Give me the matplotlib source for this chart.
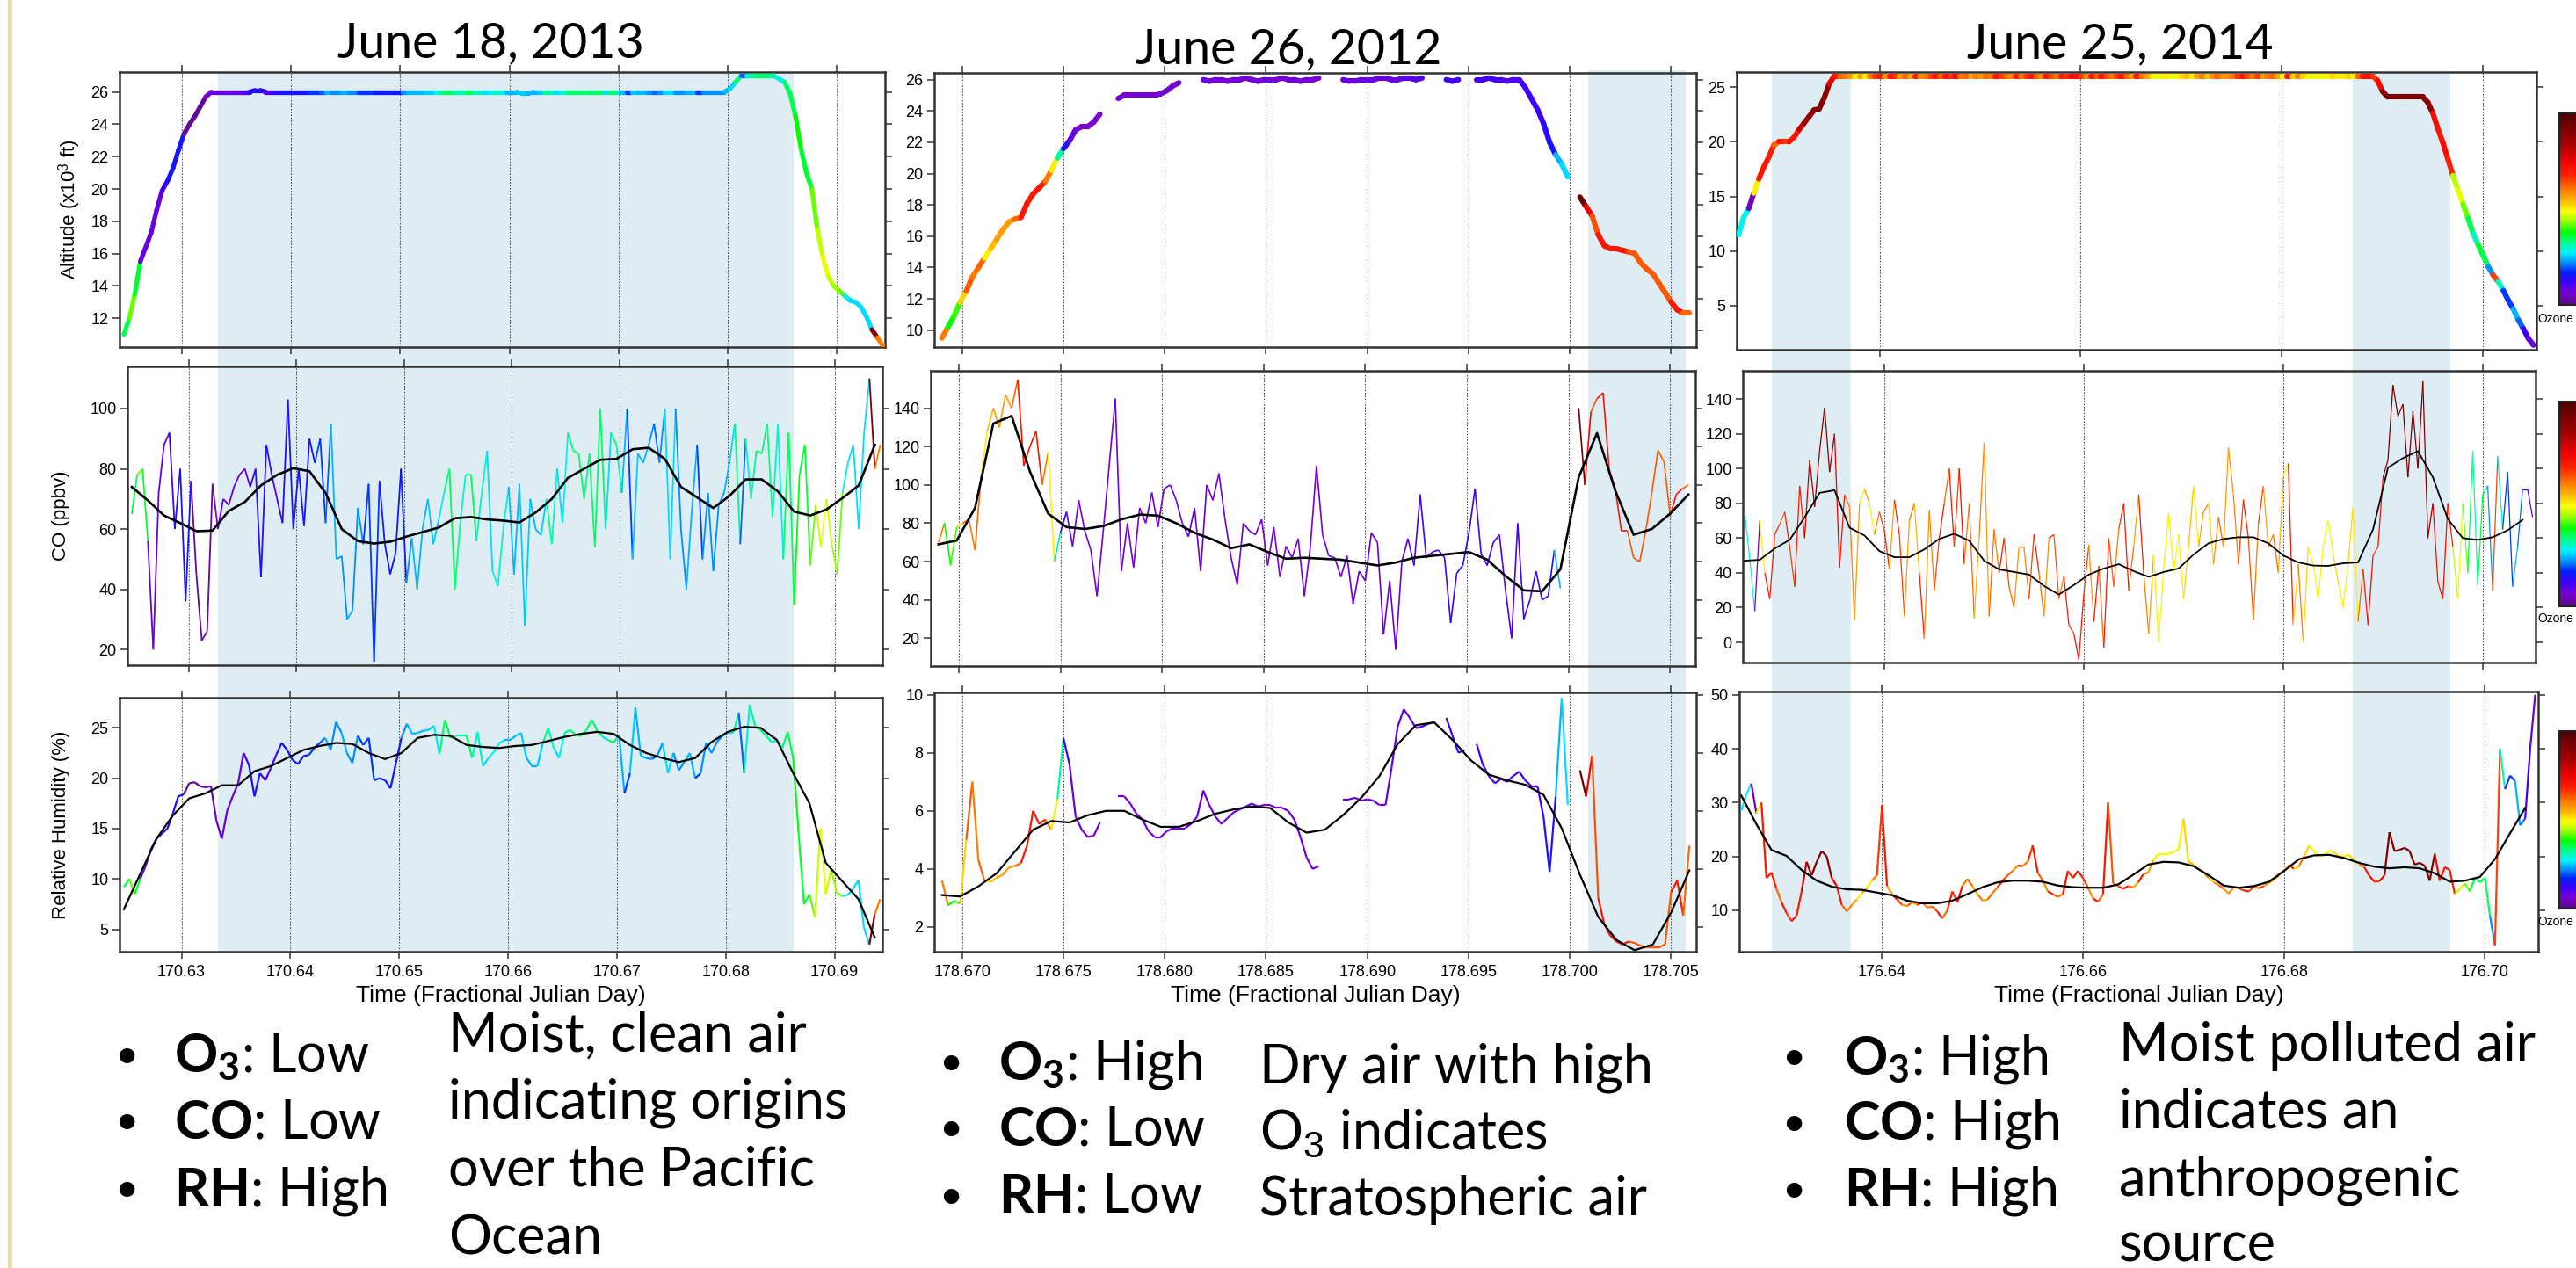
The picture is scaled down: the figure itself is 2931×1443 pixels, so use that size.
import numpy as np
import matplotlib
matplotlib.use("Agg")
import matplotlib.pyplot as plt
from matplotlib.collections import LineCollection
from matplotlib.colors import LinearSegmentedColormap, Normalize
from matplotlib.patches import Rectangle
from matplotlib.lines import Line2D
from matplotlib.cm import ScalarMappable

plt.rcParams['font.family'] = ['Liberation Sans', 'DejaVu Sans']
plt.rcParams['mathtext.fontset'] = 'custom'
plt.rcParams['mathtext.rm'] = 'Liberation Sans'
plt.rcParams['mathtext.bf'] = 'Lato:bold'
plt.rcParams['mathtext.it'] = 'Lato'

W, H, DPI = 2931, 1443, 100
nan = np.nan

# ============================ DATA ============================
TITLES = ["June 18, 2013", "June 26, 2012", "June 25, 2014"]
XLABEL = "Time (Fractional Julian Day)"
YLABELS = ["Altitude (x10$^3$ ft)", "CO (ppbv)", "Relative Humidity (%)"]

# ---- Column 1: June 18, 2013 (samples every 0.0005 day) ----
T1_START, T1_STEP = 170.6247, 0.0005
alt1 = [
 11.0, 12.0, 13.5, 15.5, 16.4, 17.3, 18.7, 19.9, 20.5, 21.3,
 22.4, 23.4, 24.0, 24.5, 25.1, 25.7, 26.0, 26.0, 26.0, 26.0,
 26.0, 26.0, 26.0, 26.0, 26.1, 26.1, 26.0, 26.0, 26.0, 26.0,
 26.0, 26.0, 26.0, 26.0, 26.0, 26.0, 26.0, 26.0, 26.0, 26.0,
 26.0, 26.0, 26.0, 26.0, 26.0, 26.0, 26.0, 26.0, 26.0, 26.0,
 26.0, 26.0, 26.0, 26.0, 26.0, 26.0, 26.0, 26.0, 26.0, 26.0,
 26.0, 26.0, 26.0, 26.0, 26.0, 26.0, 26.0, 26.0, 26.0, 26.0,
 26.0, 26.0, 26.0, 25.9, 25.9, 26.0, 26.0, 26.0, 26.0, 26.0,
 26.0, 26.0, 26.0, 26.0, 26.0, 26.0, 26.0, 26.0, 26.0, 26.0,
 26.0, 26.0, 26.0, 26.0, 26.0, 26.0, 26.0, 26.0, 26.0, 26.0,
 26.0, 26.0, 26.0, 26.0, 26.0, 26.0, 26.0, 26.0, 26.0, 26.0,
 26.0, 26.2, 26.6, 27.0, 27.0, 27.0, 27.0, 27.0, 27.0, 27.0,
 26.8, 26.6, 25.9, 24.5, 22.5, 21.0, 20.0, 17.5, 15.8, 14.6,
 14.0, 13.7, 13.4, 13.1, 13.0, 12.7, 12.1, 11.3, 10.8, 10.3]
co1 = [
 65, 78, 80, 56, 20, 72, 88, 92, 60, 80,
 36, 76, 45, 23, 26, 75, 60, 70, 68, 74,
 78, 80, 74, 80, 44, 88, 78, 70, 62, 103,
 60, 80, 61, 90, 82, 90, 62, 95, 50, 51,
 30, 33, 67, 55, 75, 16, 76, 55, 45, 52,
 80, 42, 57, 40, 60, 70, 55, 63, 72, 80,
 40, 62, 78, 78, 56, 72, 86, 46, 41, 60,
 74, 45, 75, 28, 70, 60, 58, 70, 55, 80,
 62, 92, 86, 85, 70, 85, 54, 100, 60, 92,
 88, 72, 100, 50, 85, 82, 88, 95, 82, 100,
 50, 100, 60, 40, 66, 88, 50, 72, 46, 68,
 72, 82, 95, 55, 90, 70, 86, 85, 95, 64,
 95, 50, 92, 35, 78, 88, 48, 68, 54, 70,
 55, 45, 72, 82, 88, 60, 92, 110, 80, 88]
rh1 = [
 9.2, 10.0, 8.5, 10.0, 11.3, 13.0, 14.0, 14.5, 15.0, 16.5,
 18.2, 18.4, 19.5, 19.6, 19.2, 19.1, 19.2, 15.8, 14.0, 16.8,
 18.2, 19.5, 22.5, 21.3, 18.2, 20.5, 19.8, 21.0, 22.3, 23.5,
 22.8, 21.8, 21.4, 22.2, 22.3, 23.0, 23.5, 24.0, 22.8, 25.6,
 24.5, 22.5, 21.5, 24.2, 23.3, 24.0, 19.8, 20.0, 19.8, 19.0,
 21.5, 24.0, 25.4, 24.4, 24.5, 24.7, 24.8, 25.2, 22.4, 25.8,
 24.0, 24.2, 24.2, 24.2, 22.0, 24.6, 21.2, 22.0, 22.6, 23.5,
 23.8, 23.8, 24.2, 24.5, 22.0, 21.2, 21.2, 23.5, 25.0, 23.0,
 22.0, 24.5, 24.8, 24.3, 24.2, 24.8, 25.8, 24.7, 24.1, 23.8,
 23.5, 24.3, 18.5, 20.5, 27.0, 22.2, 22.0, 21.9, 22.2, 23.5,
 20.5, 22.5, 20.8, 21.6, 22.5, 20.0, 20.5, 23.5, 22.5, 23.6,
 24.2, 24.5, 24.5, 26.5, 20.5, 27.3, 25.2, 24.8, 24.2, 23.6,
 23.7, 23.0, 24.6, 22.0, 14.5, 7.5, 8.5, 6.2, 15.0, 8.5,
 11.0, 8.6, 8.3, 8.4, 9.0, 9.9, 5.2, 3.5, 6.5, 8.0]
o3_1 = [
 35, 42, 36, 8, 8, 8, 8, 12, 15, 15,
 15, 2, 2, 2, 2, 6, 8, 8, 8, 8,
 8, 8, 12, 14, 14, 14, 10, 12, 14, 15,
 15, 15, 15, 15, 18, 18, 20, 24, 22, 22,
 24, 22, 22, 18, 18, 18, 16, 16, 16, 16,
 16, 22, 24, 24, 24, 25, 25, 28, 33, 35,
 33, 30, 32, 35, 30, 30, 26, 28, 30, 28,
 24, 24, 25, 25, 24, 24, 25, 33, 30, 26,
 28, 33, 34, 34, 33, 34, 34, 34, 26, 34,
 32, 24, 18, 25, 24, 24, 22, 20, 22, 26,
 26, 22, 22, 24, 24, 18, 22, 22, 22, 22,
 24, 26, 33, 20, 30, 32, 34, 33, 33, 30,
 28, 34, 35, 38, 36, 36, 42, 46, 48, 46,
 44, 42, 28, 26, 26, 26, 26, 90, 60, 55]
co1_smooth = [   # every 3rd sample
 74, 69.5, 64.5, 62, 59.3, 59.5, 66, 69, 74.5, 78,
 80.2, 79.2, 72, 60, 56, 55.2, 55.8, 57.5, 59, 60.5,
 63.6, 64, 63.2, 62.8, 62.2, 65.5, 70, 77, 80, 83,
 83.3, 86.5, 87, 83.3, 74, 70.5, 67, 71, 76.5, 76.5,
 72.5, 65.8, 64.5, 66.5, 70.3, 74.5, 88]
rh1_smooth = [
 7.0, 10.5, 14.0, 16.3, 18.0, 18.5, 19.3, 19.3, 20.7, 21.2,
 22.0, 22.8, 23.2, 23.5, 23.4, 22.5, 21.9, 22.5, 24.0, 24.3,
 24.2, 23.3, 23.1, 23.0, 23.2, 23.3, 23.7, 24.1, 24.4, 24.6,
 24.4, 23.3, 22.5, 22.0, 21.6, 22.0, 23.6, 24.6, 25.1, 25.0,
 23.8, 20.5, 17.5, 11.6, 9.8, 8.0, 4.2]
shade1 = [(170.6333, 170.6860)]
xticks1 = [170.63, 170.64, 170.65, 170.66, 170.67, 170.68, 170.69]

# ---- Column 2: June 26, 2012 (samples every 0.0003 day) ----
T2_START, T2_STEP = 178.6690, 0.0003
alt2 = [
 9.5, 10.2, 10.9, 11.8, 12.5, 13.4, 14.0, 14.6, 15.2, 15.8,
 16.4, 16.9, 17.1, 17.2, 18.1, 18.7, 19.1, 19.5, 20.2, 21.0,
 21.6, 22.1, 22.8, 23.0, 23.0, 23.3, 23.8, nan, nan, 24.8,
 25.0, 25.0, 25.0, 25.0, 25.0, 25.0, 25.1, 25.3, 25.6, 25.8,
 nan, nan, nan, 26.0, 25.9, 26.0, 26.0, 25.9, 26.0, 26.0,
 26.1, 26.0, 25.9, 26.0, 26.0, 26.0, 26.1, 26.0, 26.0, 25.9,
 26.0, 26.0, 26.1, nan, nan, nan, 26.0, 25.9, 25.9, 26.0,
 26.0, 26.0, 26.1, 26.1, 26.0, 26.0, 26.1, 26.1, 26.0, 26.1,
 nan, nan, nan, 26.0, 25.9, 26.0, nan, nan, 26.0, 26.0,
 26.1, 26.0, 26.0, 25.9, 26.0, 26.0, 25.5, 24.8, 24.1, 23.2,
 22.0, 21.2, 20.6, 19.8, nan, 18.5, 17.9, 17.3, 16.1, 15.4,
 15.2, 15.2, 15.1, 15.0, 14.9, 14.3, 13.9, 13.6, 13.0, 12.4,
 11.8, 11.3, 11.1, 11.1]
co2 = [
 70, 80, 58, 78, 80, 82, 66, 105, 128, 140,
 130, 147, 140, 155, 110, 120, 128, 100, 117, 60,
 75, 86, 68, 92, 76, 66, 42, 75, 110, 145,
 55, 80, 57, 88, 80, 96, 78, 98, 100, 92,
 80, 73, 88, 55, 100, 92, 106, 82, 62, 48,
 80, 76, 74, 82, 58, 78, 52, 68, 62, 72,
 42, 68, 110, 74, 63, 62, 52, 63, 38, 55,
 50, 75, 70, 22, 50, 14, 60, 72, 58, 95,
 62, 65, 66, 62, 28, 54, 58, 75, 98, 64,
 58, 70, 74, 45, 20, 80, 30, 40, 55, 40,
 42, 66, 46, nan, nan, 140, 100, 138, 145, 148,
 108, 98, 76, 76, 62, 60, 76, 96, 118, 112,
 84, 95, 98, 100]
rh2 = [
 3.6, 2.75, 2.9, 2.8, 5.0, 7.0, 4.3, 3.6, 3.55, 3.7,
 3.8, 4.05, 4.1, 4.2, 4.8, 6.0, 5.55, 5.7, 5.35, 6.4,
 8.5, 7.6, 5.8, 5.35, 5.1, 5.15, 5.6, nan, nan, 6.5,
 6.5, 6.25, 5.9, 5.7, 5.3, 5.1, 5.1, 5.3, 5.4, 5.4,
 5.4, 5.55, 5.8, 6.7, 6.2, 5.8, 5.55, 5.75, 5.95, 6.05,
 6.15, 6.25, 6.15, 6.2, 6.2, 6.1, 6.1, 6.0, 5.7, 5.1,
 4.4, 4.0, 4.1, nan, nan, nan, 6.4, 6.4, 6.45, 6.35,
 6.4, 6.35, 6.2, 6.2, 7.5, 8.9, 9.5, 9.2, 8.85, 8.9,
 9.0, 9.05, nan, 9.2, 8.6, 8.0, 8.1, nan, 8.3, 7.6,
 7.2, 6.95, 7.1, 7.0, 7.2, 7.35, 7.05, 6.85, 6.85, 5.8,
 3.9, 6.5, 9.9, 6.2, nan, 7.4, 6.5, 7.9, 3.0, 2.1,
 1.7, 1.5, 1.4, 1.5, 1.45, 1.35, 1.3, 1.3, 1.3, 1.4,
 3.2, 3.6, 2.4, 4.8]
o3_2 = [
 60, 38, 40, 52, 63, 60, 62, 50, 54, 57,
 57, 57, 62, 70, 70, 70, 70, 60, 50, 32,
 14, 8, 7, 6, 6, 6, 7, 7, 7, 7,
 7, 7, 7, 7, 7, 7, 7, 7, 7, 7,
 8, 8, 8, 8, 7, 7, 7, 7, 7, 7,
 7, 7, 7, 7, 7, 7, 7, 7, 7, 7,
 7, 7, 7, 7, 7, 7, 8, 8, 8, 8,
 8, 8, 8, 8, 8, 8, 9, 9, 10, 11,
 11, 11, 11, 12, 12, 13, 13, 12, 11, 11,
 11, 11, 10, 10, 10, 11, 12, 12, 12, 14,
 15, 24, 26, 38, 38, 95, 74, 64, 70, 70,
 70, 70, 70, 63, 63, 63, 63, 63, 63, 63,
 70, 70, 62, 68]
co2_smooth = [
 69, 71, 88, 132, 136, 107, 85, 78, 77, 78.5,
 82, 84.5, 84, 80, 75, 71.5, 67, 69, 65, 61.5,
 62, 61.5, 61, 59.5, 58, 59.5, 62, 63, 64, 65,
 61, 52.5, 45, 44.5, 56, 104, 127, 97, 74, 77,
 85, 95]
rh2_smooth = [
 3.1, 3.05, 3.4, 3.85, 4.6, 5.35, 5.65, 5.6, 5.85, 6.0,
 6.0, 5.7, 5.45, 5.45, 5.65, 5.9, 6.05, 6.15, 6.1, 5.6,
 5.25, 5.35, 5.85, 6.45, 7.2, 8.3, 8.95, 9.05, 8.45, 7.75,
 7.25, 7.05, 6.9, 6.55, 5.4, 3.8, 2.35, 1.55, 1.2, 1.4,
 2.5, 3.95]
shade2 = [(178.7009, 178.7057)]
xticks2 = [178.670, 178.675, 178.680, 178.685, 178.690, 178.695, 178.700, 178.705]

# ---- Column 3: June 25, 2014 (samples every 0.0005 day) ----
T3_START, T3_STEP = 176.6260, 0.0005
alt3 = [
 11.5, 13.1, 13.9, 15.3, 16.6, 17.7, 18.6, 19.7, 20.0, 20.0,
 20.0, 20.4, 21.1, 21.7, 22.3, 22.9, 23.0, 24.0, 25.3, 26.0,
 26.0, 26.0, 26.0, 26.0, 26.0, 26.0, 26.0, 26.0, 26.0, 26.0,
 26.0, 26.0, 26.0, 26.0, 26.0, 26.0, 26.0, 26.0, 26.0, 26.0,
 26.0, 26.0, 26.0, 26.0, 26.0, 26.0, 26.0, 26.0, 26.0, 26.0,
 26.0, 26.0, 26.0, 26.0, 26.0, 26.0, 26.0, 26.0, 26.0, 26.0,
 26.0, 26.0, 26.0, 26.0, 26.0, 26.0, 26.0, 26.0, 26.0, 26.0,
 26.0, 26.0, 26.0, 26.0, 26.0, 26.0, 26.0, 26.0, 26.0, 26.0,
 26.0, 26.0, 26.0, 26.0, 26.0, 26.0, 26.0, 26.0, 26.0, 26.0,
 26.0, 26.0, 26.0, 26.0, 26.0, 26.0, 26.0, 26.0, 26.0, 26.0,
 26.0, 26.0, 26.0, 26.0, 26.0, 26.0, 26.0, 26.0, 26.0, 26.0,
 26.0, 26.0, 26.0, 26.0, 26.0, 26.0, 26.0, 26.0, 26.0, 26.0,
 26.0, 26.0, 26.0, 26.0, 26.0, 26.0, 26.0, 25.6, 24.6, 24.1,
 24.1, 24.1, 24.1, 24.1, 24.1, 24.1, 24.1, 23.6, 22.6, 21.2,
 19.9, 18.4, 16.9, 15.6, 14.3, 13.0, 11.6, 10.6, 9.6, 8.6,
 7.8, 7.2, 6.4, 5.5, 4.7, 3.7, 2.9, 2.0, 1.4]
co3 = [
 74, 48, 18, 70, 40, 25, 62, 68, 75, 55,
 32, 90, 60, 105, 78, 110, 135, 98, 120, 43,
 85, 78, 13, 80, 88, 80, 62, 75, 64, 42,
 82, 62, 15, 70, 80, 40, 2, 76, 30, 60,
 80, 100, 55, 100, 45, 80, 14, 60, 115, 15,
 65, 40, 60, 32, 20, 55, 55, 25, 62, 40,
 15, 60, 62, 25, 38, 10, 5, -10, 28, 56,
 12, 44, -3, 60, 32, 65, 80, 30, 55, 85,
 40, 5, 50, 0, 42, 75, 40, 62, 25, 55,
 90, 55, 75, 80, 45, 72, 55, 112, 85, 45,
 82, 60, 13, 68, 90, 55, 62, 40, 95, 103,
 10, 45, 0, 55, 45, 25, 55, 70, 50, 35,
 20, 45, 78, 12, 42, 10, 50, 55, 95, 105,
 148, 130, 137, 95, 133, 100, 150, 60, 80, 35,
 25, 80, 55, 25, 80, 40, 110, 33, 85, 90,
 30, 107, 65, 98, 32, 55, 88, 88, 72]
rh3 = [
 28.5, 31.5, 33.5, 28, 30, 16, 17, 14, 11.5, 9.5,
 8.0, 9.0, 13.5, 19, 16.5, 19, 21, 20, 16, 14.5,
 11, 9.8, 11, 12, 13.2, 14.2, 15.5, 16.5, 29.5, 14.5,
 13, 12, 11, 10.8, 11.5, 11, 11.5, 10.5, 10.7, 9.8,
 8.5, 10, 13.5, 11.5, 14.5, 15.8, 14.5, 13, 11.8, 12,
 13.2, 14.3, 15.5, 16.5, 17.3, 18.3, 18.2, 19, 22, 17,
 15.5, 13.5, 13, 12.5, 13, 17.3, 16, 17.3, 16, 14.2,
 12.2, 11.6, 13, 30, 15, 14.5, 14, 14.5, 14.2, 15.2,
 16.7, 17, 19.3, 20.5, 20.5, 20.5, 20.8, 21.3, 27, 19,
 18.5, 17.6, 17.1, 16, 15.2, 14.7, 14, 13.1, 14.3, 14.1,
 13.7, 13.5, 14.4, 14.1, 14.5, 15.1, 15.7, 16.5, 17.4, 18.4,
 17.7, 18.2, 20, 22, 21, 20.1, 20.3, 21.1, 20.7, 20,
 20.1, 20.3, 19, 18.5, 18, 16.4, 15.3, 15.4, 16.5, 24.5,
 21, 21.2, 21.6, 21, 18.5, 18.8, 18.3, 15.5, 20.5, 15.5,
 18, 17.5, 13, 14, 15, 13.5, 16, 15.2, 16, 9,
 3.5, 40, 32.5, 35, 34, 25.8, 27, 40, 50]
o3_3 = [
 28, 28, 5, 50, 70, 70, 68, 62, 70, 66,
 70, 70, 80, 85, 88, 90, 90, 88, 75, 70,
 62, 60, 57, 50, 57, 50, 60, 66, 70, 57,
 70, 66, 57, 62, 55, 70, 58, 60, 65, 70,
 62, 70, 66, 72, 60, 62, 55, 60, 57, 62,
 60, 70, 65, 62, 58, 68, 60, 66, 70, 62,
 58, 70, 64, 60, 70, 66, 72, 70, 66, 58,
 70, 62, 70, 64, 60, 66, 70, 62, 56, 70,
 60, 56, 50, 48, 50, 50, 48, 50, 52, 54,
 50, 56, 60, 52, 58, 62, 57, 58, 60, 66,
 70, 64, 60, 66, 56, 60, 62, 55, 50, 70,
 52, 60, 52, 50, 48, 50, 48, 50, 52, 50,
 50, 52, 50, 62, 70, 72, 66, 72, 90, 92,
 92, 90, 92, 90, 92, 90, 90, 88, 72, 70,
 72, 68, 45, 48, 42, 35, 30, 36, 35, 22,
 65, 30, 18, 18, 24, 20, 12, 8, 6]
co3_smooth = [
 47, 47.5, 54, 59, 72, 86, 87.5, 66, 61.5, 52.5,
 49, 49, 53.5, 59.5, 62.5, 58.5, 47, 42, 40.5, 39,
 32.5, 27.5, 33, 39, 42.5, 45, 41, 37.7, 40.5, 42.5,
 50.5, 57, 59.5, 60.5, 60.5, 57, 50, 46, 44.2, 44,
 45.5, 46, 65, 100.5, 106, 110, 95, 71, 60, 59,
 60.5, 64.5, 70.5]
rh3_smooth = [
 31.3, 26, 21.2, 20.1, 17.5, 15.5, 14.4, 13.9, 13.8, 13.3,
 12.8, 11.8, 11.3, 11.3, 11.8, 13, 14.3, 15.2, 15.5, 15.5,
 15.3, 14.6, 14.3, 14.2, 14.2, 14.8, 16.6, 18.5, 19, 18.9,
 18.2, 16.5, 14.6, 14.2, 14.5, 15.3, 17.3, 19.5, 20.2, 20.3,
 19.7, 18.8, 18.1, 17.8, 18, 17.8, 16.9, 15.3, 15.5, 16.2,
 19.5, 24.3, 29]
shade3 = [(176.6293, 176.6372), (176.6870, 176.6967)]
xticks3 = [176.64, 176.66, 176.68, 176.70]

NOTES = [
    (["$\\mathbf{O_3}$: Low", "$\\mathbf{CO}$: Low", "$\\mathbf{RH}$: High"],
     ["Moist, clean air", "indicating origins", "over the Pacific", "Ocean"]),
    (["$\\mathbf{O_3}$: High", "$\\mathbf{CO}$: Low", "$\\mathbf{RH}$: Low"],
     ["Dry air with high", "O$_{\\mathit{3}}$ indicates", "Stratospheric air"]),
    (["$\\mathbf{O_3}$: High", "$\\mathbf{CO}$: High", "$\\mathbf{RH}$: High"],
     ["Moist polluted air", "indicates an", "anthropogenic", "source"]),
]

# ============================ STYLE / LAYOUT ============================
cmap = LinearSegmentedColormap.from_list("ozone", [
    (0.00, '#5a0a82'), (0.06, '#7a00d0'), (0.12, '#3a00ff'), (0.17, '#0020ff'),
    (0.22, '#0090ff'), (0.27, '#00f0ff'), (0.33, '#00ff80'), (0.38, '#00ff00'),
    (0.44, '#a0ff00'), (0.49, '#ffff00'), (0.55, '#ffb000'), (0.61, '#ff7000'),
    (0.68, '#ff2000'), (0.75, '#ee0000'), (0.85, '#a00000'), (1.00, '#500000')])
norm = Normalize(0, 100)
SHADE = '#deedf3'
NOTE_SIZE = 44

columns = [
    dict(t0=T1_START, dt=T1_STEP, alt=alt1, co=co1, rh=rh1, o3=o3_1,
         cos=co1_smooth, rhs=rh1_smooth, shade=shade1, xticks=xticks1, xfmt='{:.2f}',
         xlim=(170.6243, 170.6944),
         ylims=[(10.22, 27.23), (14.8, 114.0), (2.79, 27.99)],
         yticks=[list(range(12, 27, 2)), list(range(20, 101, 20)), list(range(5, 26, 5))],
         boxes=[(136, 82, 1007, 395), (145, 417, 1004, 757), (136, 794, 1004, 1083)],
         title=(558, 65), lw_co=1.3, lw_cos=1.9, shade_top=82, lw_alt=3.8),
    dict(t0=T2_START, dt=T2_STEP, alt=alt2, co=co2, rh=rh2, o3=o3_2,
         cos=co2_smooth, rhs=rh2_smooth, shade=shade2, xticks=xticks2, xfmt='{:.3f}',
         xlim=(178.66862, 178.70624),
         ylims=[(8.92, 26.43), (5.5, 159.5), (1.15, 10.08)],
         yticks=[list(range(10, 27, 2)), list(range(20, 141, 20)), list(range(2, 11, 2))],
         boxes=[(1063, 83, 1930, 395), (1059, 422, 1929, 758), (1063, 788, 1930, 1083)],
         title=(1466, 72), lw_co=1.2, lw_cos=1.9, shade_top=80, lw_alt=4.4),
    dict(t0=T3_START, dt=T3_STEP, alt=alt3, co=co3, rh=rh3, o3=o3_3,
         cos=co3_smooth, rhs=rh3_smooth, shade=shade3, xticks=xticks3, xfmt='{:.2f}',
         xlim=(176.6258, 176.7053),
         ylims=[(0.98, 26.37), (-11.6, 156.2), (2.33, 50.6)],
         yticks=[list(range(5, 26, 5)), list(range(0, 141, 20)), list(range(10, 51, 10))],
         boxes=[(1976, 82, 2886, 398), (1983, 422, 2885, 754), (1979, 787, 2888, 1083)],
         title=(2412, 66), lw_co=0.9, lw_cos=1.3, shade_top=82, lw_alt=4.4),
]

fig = plt.figure(figsize=(W / DPI, H / DPI), dpi=DPI)
fig.patch.set_facecolor('white')


def px_axes(box):
    l, t, r, b = box
    return fig.add_axes([l / W, 1 - b / H, (r - l) / W, (b - t) / H])


def colored_line(ax, t0, dt, y, o3, lw, cap='butt'):
    y = np.asarray(y, float)
    c = np.asarray(o3, float)
    n = min(len(y), len(c))
    y, c = y[:n], c[:n]
    t = t0 + dt * np.arange(n)
    pts = np.column_stack([t, y])
    segs = np.stack([pts[:-1], pts[1:]], axis=1)
    ok = np.isfinite(segs).all(axis=(1, 2))
    lc = LineCollection(segs[ok], cmap=cmap, norm=norm, linewidths=lw,
                        capstyle=cap, joinstyle='round', zorder=3)
    lc.set_array(c[:-1][ok])
    ax.add_collection(lc)


def style_axes(ax, col, row):
    ax.set_facecolor('none')
    ax.set_xlim(*col['xlim'])
    ax.set_ylim(*col['ylims'][row])
    ax.set_xticks(col['xticks'])
    ax.set_xticklabels([col['xfmt'].format(v) for v in col['xticks']])
    ax.set_yticks(col['yticks'][row])
    ax.set_yticklabels(['{:g}'.format(v) for v in col['yticks'][row]])
    ax.tick_params(axis='both', direction='out', length=6, width=1.1, color='#333333',
                   labelsize=13, top=True, right=True, labeltop=False, labelright=False,
                   labelbottom=(row == 2))
    ax.tick_params(axis='x', pad=5)
    ax.tick_params(axis='y', pad=3)
    ax.grid(axis='x', color='#555555', lw=0.8, ls=(0, (1.5, 1.5)), zorder=1)
    ax.set_axisbelow(True)
    for s in ax.spines.values():
        s.set_color('#333333')
        s.set_linewidth(1.8)


for ci, col in enumerate(columns):
    ax_alt = px_axes(col['boxes'][0])
    ax_co = px_axes(col['boxes'][1])
    ax_rh = px_axes(col['boxes'][2])
    for r, ax in enumerate([ax_alt, ax_co, ax_rh]):
        style_axes(ax, col, r)

    colored_line(ax_alt, col['t0'], col['dt'], col['alt'], col['o3'], col['lw_alt'], cap='round')
    colored_line(ax_co, col['t0'], col['dt'], col['co'], col['o3'], col['lw_co'])
    colored_line(ax_rh, col['t0'], col['dt'], col['rh'], col['o3'], 1.6)

    ts = col['t0'] + 3 * col['dt'] * np.arange(len(col['cos']))
    ax_co.plot(ts, col['cos'], color='black', lw=col['lw_cos'], zorder=4)
    ts = col['t0'] + 3 * col['dt'] * np.arange(len(col['rhs']))
    ax_rh.plot(ts, col['rhs'], color='black', lw=1.6, zorder=4)

    # shaded time windows, continuous through all three rows
    for (x0, x1) in col['shade']:
        d = ax_alt.transData.transform([[x0, 0], [x1, 0]])
        f = fig.transFigure.inverted().transform(d)
        top = col['shade_top']
        rect = Rectangle((f[0, 0], 1 - 1083 / H), f[1, 0] - f[0, 0], (1083 - top) / H,
                         transform=fig.transFigure, facecolor=SHADE, edgecolor='none', zorder=-1)
        fig.add_artist(rect)

    # title
    tx, ty = col['title']
    fig.text(tx / W, 1 - ty / H, TITLES[ci], ha='center', va='baseline',
             fontsize=40, family='Lato')
    # x label
    l, _, rr, _ = col['boxes'][2]
    fig.text((l + rr) / 2 / W, 1 - 1140 / H, XLABEL, ha='center', va='baseline', fontsize=19)

# y labels (left column only)
for lab, (x, y) in zip(YLABELS, [(80, 238), (70, 587), (70, 939)]):
    fig.text(x / W, 1 - y / H, lab, rotation=90, ha='center', va='center', fontsize=16)

# colour bars
for (top, bot, ozy) in [(129, 347, 367), (457, 690, 708), (832, 1034, 1053)]:
    cax = fig.add_axes([2912 / W, 1 - bot / H, 32 / W, (bot - top) / H])
    cb = fig.colorbar(ScalarMappable(norm=norm, cmap=cmap), cax=cax)
    cb.set_ticks([])
    cb.outline.set_linewidth(1.5)
    cb.outline.set_edgecolor('#222222')
    fig.text(2887 / W, 1 - ozy / H, "Ozone", ha='left', va='baseline', fontsize=10)

# bottom notes
note_layout = [
    dict(bx=130, lx=198, lb=[1220, 1295, 1372], dx=510, db=[1197, 1273, 1350, 1427]),
    dict(bx=1068, lx=1136, lb=[1228, 1303, 1380], dx=1433, db=[1232, 1307, 1383]),
    dict(bx=2027, lx=2098, lb=[1222, 1297, 1373], dx=2411, db=[1208, 1283, 1360, 1435]),
]
for (labels, desc), lay in zip(NOTES, note_layout):
    for s, yb in zip(labels, lay['lb']):
        fig.text(lay['bx'] / W, 1 - (yb - 5) / H, "\u2022", ha='left', va='baseline',
                 fontsize=34, family='Lato')
        fig.text(lay['lx'] / W, 1 - yb / H, s, ha='left', va='baseline',
                 fontsize=NOTE_SIZE, family='Lato')
    for s, yb in zip(desc, lay['db']):
        fig.text(lay['dx'] / W, 1 - yb / H, s, ha='left', va='baseline',
                 fontsize=NOTE_SIZE, family='Lato')

# slide border line on the left
fig.add_artist(Line2D([11 / W, 11 / W], [0, 1], transform=fig.transFigure,
                      color='#eadc98', lw=3.5))

fig.savefig('out.png', dpi=DPI)
